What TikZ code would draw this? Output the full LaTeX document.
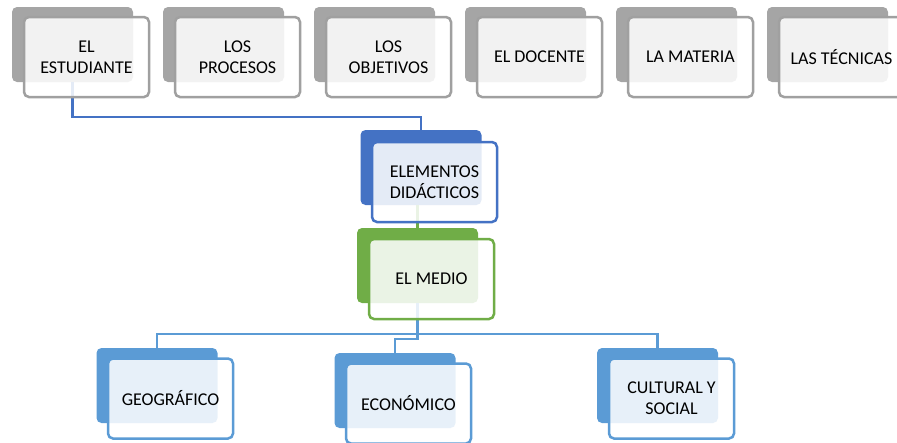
\documentclass[tikz,border=0pt]{standalone}
\usepackage{fontspec}
\setmainfont{Carlito}
\definecolor{grayacc}{HTML}{A5A5A5}
\definecolor{grayline}{HTML}{A0A0A0}
\definecolor{blueacc}{HTML}{4472C4}
\definecolor{greenacc}{HTML}{70AD47}
\definecolor{lblue}{HTML}{5B9BD5}
\begin{document}
\begin{tikzpicture}[x=1pt,y=-1pt,
  back/.style={rounded corners=5pt, inner sep=0pt, minimum width=121pt, minimum height=75pt},
  front/.style={rounded corners=5pt, inner sep=0pt, minimum width=125pt, minimum height=80pt,
    fill=white, fill opacity=0.86, text opacity=1, line width=2.5pt, align=center,
    font=\fontsize{18}{21}\selectfont},
  conn/.style={line width=2.5pt}]
\clip (0,0) rectangle (897,442);
% back rectangles
\foreach \i in {1,...,6}{
  \node[back, fill=grayacc] (b\i) at ({72.5+151*(\i-1)},44.5) {};
}
\node[back, fill=blueacc] (eb) at (421,167.5) {};
\node[back, fill=greenacc] (mb) at (417.5,265.5) {};
\node[back, fill=lblue] (gb) at (157,385.5) {};
\node[back, fill=lblue] (ecb) at (395,390.5) {};
\node[back, fill=lblue] (cb) at (657.5,385.5) {};
% connectors
\draw[conn, blueacc] (b1.south) -- ++(0,35) -| (eb.north);
\draw[conn, greenacc] (eb.south -| mb.north) -- (mb.north);
\draw[conn, lblue] (gb.north) -- ++(0,-14) -| (cb.north);
\draw[conn, lblue] (mb.south) -- ++(0,36) -| (ecb.north);
% front rectangles
\node[front, draw=grayline] (f1) at (86.5,57) {EL\\ESTUDIANTE};
\node[front, draw=grayline] (f2) at (237.5,57) {LOS\\PROCESOS};
\node[front, draw=grayline] (f3) at (388.5,57) {LOS\\OBJETIVOS};
\node[front, draw=grayline] (f4) at (539.5,57) {EL DOCENTE};
\node[front, draw=grayline] (f5) at (690.5,57) {LA MATERIA};
\node[front, draw=grayline] (f6) at (841.5,57) {LAS TÉCNICAS};
\node[front, draw=blueacc] (ef) at (434.5,182) {ELEMENTOS\\DIDÁCTICOS};
\node[front, draw=greenacc] (mf) at (431.5,279) {EL MEDIO};
\node[front, draw=lblue] (gf) at (170.5,398.5) {GEOGRÁFICO};
\node[front, draw=lblue] (ecf) at (408.5,403.5) {ECONÓMICO};
\node[front, draw=lblue] (cf) at (671.5,398.5) {CULTURAL Y\\SOCIAL};
\end{tikzpicture}
\end{document}
